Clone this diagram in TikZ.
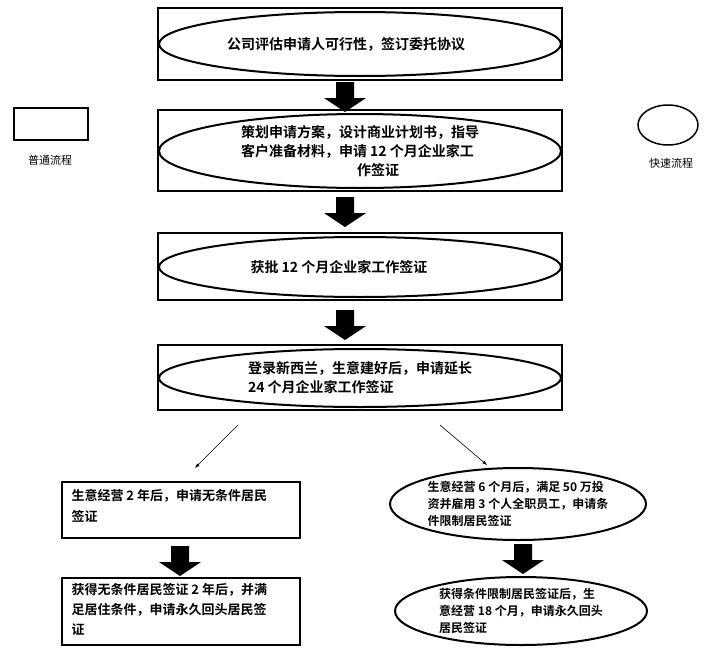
\documentclass[tikz,border=0pt]{standalone}
\usepackage{fontspec}
\setmainfont{Noto Sans CJK SC}[BoldFont={Noto Sans CJK SC Bold}]
\usetikzlibrary{calc,shapes.geometric}
\tikzset{
  rbox/.style={draw,line width=2pt,inner sep=0pt},
  ell/.style={draw,ellipse,line width=2pt,inner sep=0pt,font=\bfseries\fontsize{14}{19}\selectfont,align=left},
  lbl/.style={font=\fontsize{11}{14}\selectfont},
  thin/.style={-latex,line width=0.6pt},
}
\newcommand\blockarr[2]{\fill (#1,#2) -- ++(9,0) -- ++(0,16) -- ++(12,0) -- ++(-21,14) -- ++(-21,-14) -- ++(12,0) -- ++(0,-16) -- cycle;}
\begin{document}
\begin{tikzpicture}[x=1pt,y=-1pt]
\useasboundingbox (0,0) rectangle (718,656);
% main boxes
\foreach \n/\ya/\yb in {1/8/80,2/110/191,3/233/300,4/345/410}{
  \node[rbox,minimum width=404pt,minimum height={(\yb-\ya)*1pt}] (r\n) at (360,{(\ya+\yb)/2}) {};
}
\node[ell,minimum width=402pt,minimum height=64pt] (e1) at (360,44) {\hspace*{-2em}公司评估申请人可行性，签订委托协议};
\node[ell,minimum width=402pt,minimum height=74pt] (e2) at (360,151) {策划申请方案，设计商业计划书，指导\\客户准备材料，申请 12 个月企业家工\\\hspace*{8.3em}作签证};
\node[ell,minimum width=402pt,minimum height=60pt] (e3) at (360,267) {\hspace*{-3em}获批 12 个月企业家工作签证};
\node[ell,minimum width=402pt,minimum height=58pt] (e4) at (360,378) {登录新西兰，生意建好后，申请延长\\24 个月企业家工作签证};
\blockarr{345}{82}
\blockarr{345}{197}
\blockarr{345}{310}
% legend
\node[rbox,minimum width=74pt,minimum height=32pt] (lr) at (51,124) {};
\node[lbl] (lrt) at (50,160) {普通流程};
\node[draw,ellipse,line width=1.5pt,minimum width=60pt,minimum height=40pt] (le) at (668,125) {};
\node[lbl] (let) at (671,163) {快速流程};
% left branch
\node[rbox,minimum width=238pt,minimum height=56pt] (b5) at (181,510) {};
\node[font=\bfseries\fontsize{13}{21}\selectfont,align=left,anchor=north west] (t5) at (68,486) {生意经营 2 年后，申请无条件居民\\签证};
\blockarr{180}{546}
\node[rbox,minimum width=238pt,minimum height=67pt] (b6) at (181,611) {};
\node[font=\bfseries\fontsize{13}{20}\selectfont,align=left,anchor=north west] (t6) at (68,580) {获得无条件居民签证 2 年后，并满\\足居住条件，申请永久回头居民签\\证};
% right branch
\node[ell,minimum width=256pt,minimum height=72pt,font=\bfseries\fontsize{12}{17}\selectfont] (e7) at (518,504) {生意经营 6 个月后，满足 50 万投\\资并雇用 3 个人全职员工，申请条\\件限制居民签证};
\blockarr{523}{544}
\node[ell,minimum width=252pt,minimum height=68pt,font=\bfseries\fontsize{12}{17}\selectfont] (e8) at (521,611) {获得条件限制居民签证后，生\\意经营 18 个月，申请永久回头\\居民签证};
\coordinate (c1) at (238,425);
\coordinate (c2) at (440,425);
\draw[thin] (c1) -- (195,468);
\draw[thin] (c2) -- (487,465);
\end{tikzpicture}
\end{document}
